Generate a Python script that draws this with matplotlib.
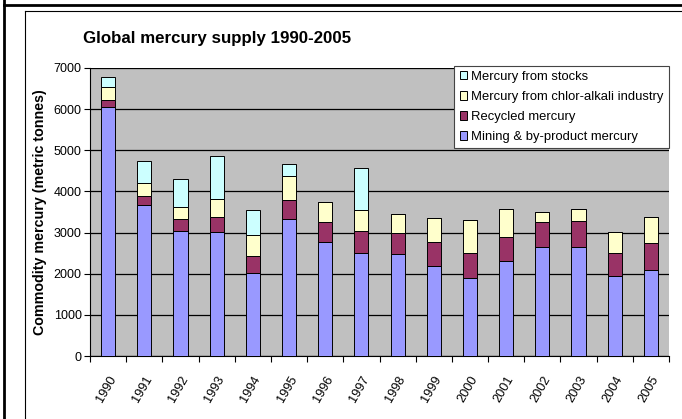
import numpy as np
import matplotlib.pyplot as plt
from matplotlib.lines import Line2D

plt.rcParams['font.family'] = ['Liberation Sans', 'DejaVu Sans']

years = [str(y) for y in range(1990, 2006)]
mining = [6050, 3660, 3030, 3020, 2020, 3320, 2760, 2510,
          2470, 2180, 1890, 2300, 2640, 2640, 1950, 2090]
recycled = [180, 240, 290, 350, 400, 475, 500, 540,
            515, 580, 610, 600, 610, 630, 560, 650]
chlor_alkali = [300, 300, 310, 440, 510, 570, 495, 510,
                455, 590, 795, 670, 240, 315, 495, 650]
stocks = [260, 540, 670, 1040, 610, 310, 0, 1000,
          0, 0, 0, 0, 0, 0, 0, 0]

series = [
    ("Mining & by-product mercury", mining, "#9999FF"),
    ("Recycled mercury", recycled, "#993366"),
    ("Mercury from chlor-alkali industry", chlor_alkali, "#FFFFCC"),
    ("Mercury from stocks", stocks, "#CCFFFF"),
]

W, H = 682, 419
fig = plt.figure(figsize=(W / 100, H / 100), dpi=100)

# page/frame lines around the chart (document crop)
fig.add_artist(Line2D([4 / W, 4 / W], [0, 1], color="black", lw=2, transform=fig.transFigure))
fig.add_artist(Line2D([4 / W, 1], [1 - 5 / H, 1 - 5 / H], color="black", lw=2, transform=fig.transFigure))
fig.add_artist(Line2D([25 / W, 25 / W], [0, 1 - 11.5 / H], color="black", lw=0.8, transform=fig.transFigure))
fig.add_artist(Line2D([25 / W, 1], [1 - 11.5 / H, 1 - 11.5 / H], color="black", lw=0.8, transform=fig.transFigure))

left, right, top, bottom = 90, 669, 68, 356
ax = fig.add_axes([left / W, 1 - bottom / H, (right - left) / W, (bottom - top) / H])
ax.set_facecolor("#C0C0C0")

x = np.arange(len(years))
base = np.zeros(len(years))
handles = []
for name, vals, col in series:
    vals = np.array(vals, dtype=float)
    b = ax.bar(x, vals, 0.39, bottom=base, color=col, edgecolor="black",
               linewidth=0.7, label=name, zorder=3)
    handles.append(b)
    base += vals

ax.set_xlim(-0.5, len(years) - 0.5)
ax.set_ylim(0, 7000)
ax.set_yticks(range(0, 7001, 1000))
ax.yaxis.grid(True, color="black", lw=0.9, zorder=1)
ax.set_axisbelow(True)

ax.set_xticks(np.arange(-0.5, len(years), 1.0))
ax.set_xticklabels([])
ax.set_xticks(x, minor=True)
ax.set_xticklabels(years, minor=True, rotation=60, ha="right", va="top",
                   rotation_mode="anchor", fontsize=9.2)
ax.tick_params(axis="x", which="minor", length=0, pad=13)
ax.tick_params(axis="x", which="major", length=4, width=0.8, direction="out")
ax.tick_params(axis="y", length=4, width=0.8, direction="out", labelsize=9, pad=2)

for s in ["top", "right"]:
    ax.spines[s].set_visible(False)
ax.spines["left"].set_linewidth(0.8)
ax.spines["bottom"].set_linewidth(0.8)

ax.set_ylabel("Commodity mercury (metric tonnes)", fontsize=10.3, fontweight="bold", labelpad=5)
fig.text(217 / W, 1 - 38 / H, "Global mercury supply 1990-2005", fontsize=12.2,
         fontweight="bold", ha="center", va="center")

leg = ax.legend(handles[::-1], [s[0] for s in series][::-1], loc="upper right",
                bbox_to_anchor=(1.0, 1.008), fontsize=9.4, frameon=True, fancybox=False,
                framealpha=1, handlelength=0.6, handleheight=0.6, handletextpad=0.3,
                labelspacing=0.62, borderpad=0.4, borderaxespad=0)
leg.get_frame().set_edgecolor("#444444")
leg.get_frame().set_facecolor("white")
leg.get_frame().set_linewidth(0.8)
leg.set_zorder(5)

fig.savefig("out.png", dpi=100)
